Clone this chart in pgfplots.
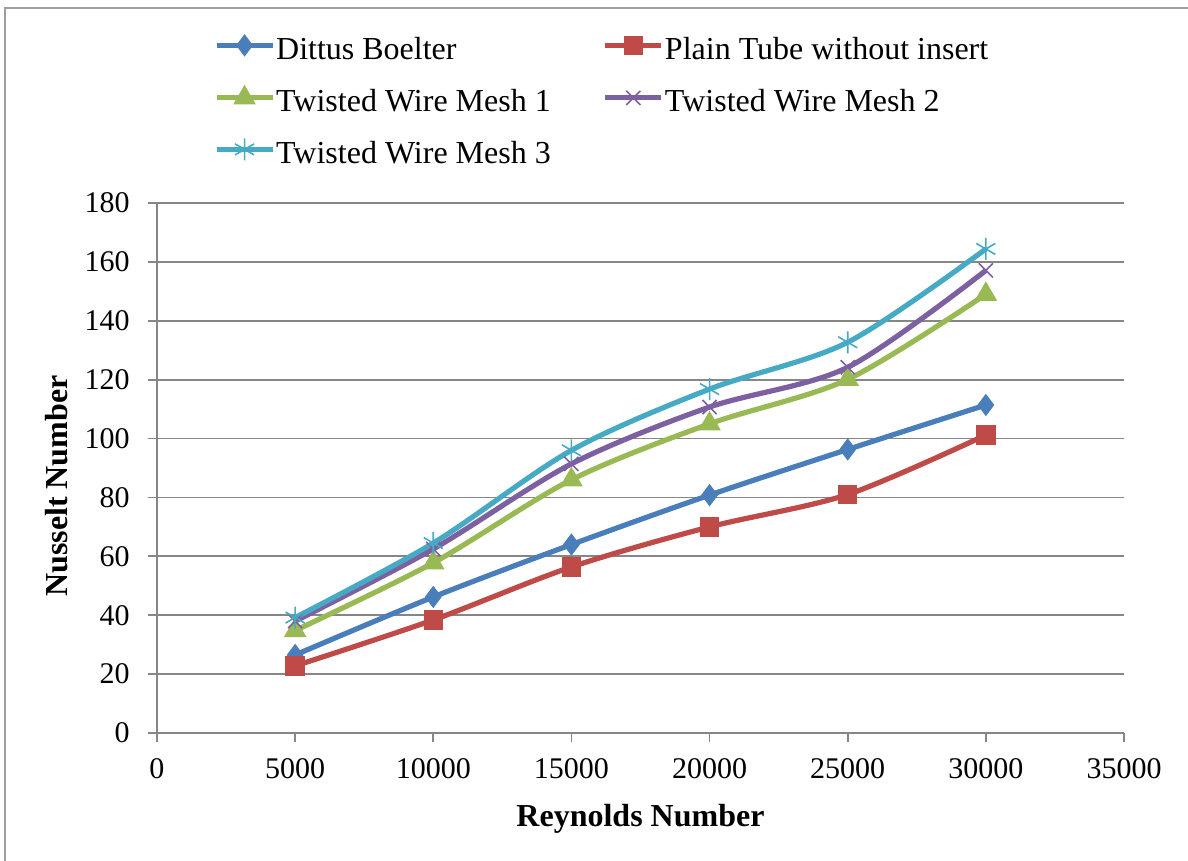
\documentclass[border=0pt]{standalone}
\usepackage{fontspec}
\setmainfont{Liberation Serif}
\usepackage{pgfplots}
\pgfplotsset{compat=1.18}

\definecolor{cDB}{HTML}{4A7EBB}
\definecolor{cPT}{HTML}{BE4B48}
\definecolor{cM1}{HTML}{98B954}
\definecolor{cM2}{HTML}{7D60A0}
\definecolor{cM3}{HTML}{46AAC5}
\definecolor{axgray}{HTML}{868686}

\begin{document}
\begin{tikzpicture}
\useasboundingbox (-78.5bp,-64bp) rectangle (515.5bp,366.5bp);
\draw[axgray!80, line width=1.2bp] (-76bp,-64bp) -- (-76bp,362.5bp) -- (515.5bp,362.5bp);
\begin{axis}[
  name=ax,
  at={(0,0)}, anchor=south west,
  scale only axis,
  width=483.5bp, height=265bp,
  xmin=0, xmax=35000, ymin=0, ymax=180,
  xtick={0,5000,...,35000},
  ytick={0,20,...,180},
  scaled x ticks=false,
  axis x line*=bottom, axis y line*=left,
  axis line style={axgray, line width=0.9bp, -},
  tick align=outside,
  major tick length=4.5bp,
  tick style={axgray, line width=0.9bp},
  ymajorgrids,
  grid style={axgray, line width=0.9bp},
  /pgf/number format/assume math mode=true,
  /pgf/number format/set thousands separator={},
  ticklabel style={font=\fontsize{15bp}{18bp}\selectfont, inner sep=0pt},
  xticklabel style={anchor=north, yshift=-8bp},
  yticklabel style={anchor=east, xshift=-9bp},
  xlabel={\textbf{Reynolds Number}},
  ylabel={\textbf{Nusselt Number}},
  label style={font=\fontsize{16bp}{19bp}\selectfont, inner sep=0pt},
  xlabel style={at={(axis description cs:0.5,-0.1755)}, anchor=base},
  ylabel style={at={(axis description cs:-0.092,0.466)}, anchor=south, rotate=0},
  legend columns=2,
  legend style={
    at={(axis description cs:0.0589,1.317)}, anchor=north west,
    draw=none, fill=none, inner sep=0pt, outer sep=0pt,
    font=\fontsize{16bp}{19bp}\selectfont,
    row sep=9.25bp,
    nodes={inner sep=0pt, text height=12bp, text depth=4bp},
    /tikz/every odd column/.append style={column sep=0.5bp},
    /tikz/every even column/.append style={column sep=26bp},
  },
  legend cell align=left,
  legend image code/.code={
    \draw[#1, mark repeat=2, mark phase=2, sharp plot]
      plot coordinates {(0bp,3bp) (14bp,3bp) (28bp,3bp)};
  },
  every axis plot/.append style={line width=2.6bp, smooth, tension=0.5},
]
% Dittus-Boelter correlation
\addplot[cDB, mark=diamond*, mark size=5.2bp, mark options={line width=0.5bp, fill=cDB}]
  coordinates {(5000,26.5) (10000,46.2) (15000,64.0) (20000,80.8) (25000,96.3) (30000,111.4)};
\addlegendentry{Dittus Boelter}
% plain tube, no insert
\addplot[cPT, mark=square*, mark size=4.6bp, mark options={line width=0.5bp, fill=cPT}]
  coordinates {(5000,22.8) (10000,38.4) (15000,56.4) (20000,70.0) (25000,81.0) (30000,101.2)};
\addlegendentry{Plain Tube without insert}
% twisted wire mesh inserts
\addplot[cM1, mark=triangle*, mark size=6bp, mark options={line width=0.5bp, fill=cM1}]
  coordinates {(5000,34.8) (10000,57.8) (15000,86.0) (20000,105.0) (25000,120.1) (30000,149.0)};
\addlegendentry{Twisted Wire Mesh 1}
\addplot[cM2, mark=x, mark size=5bp, mark options={line width=0.8bp}]
  coordinates {(5000,38.0) (10000,62.5) (15000,91.4) (20000,110.7) (25000,124.2) (30000,157.1)};
\addlegendentry{Twisted Wire Mesh 2}
\addplot[cM3, mark=asterisk, mark size=5.5bp, mark options={line width=0.8bp}]
  coordinates {(5000,39.2) (10000,64.5) (15000,96.0) (20000,116.8) (25000,132.7) (30000,164.4)};
\addlegendentry{Twisted Wire Mesh 3}
\end{axis}
\end{tikzpicture}
\end{document}
